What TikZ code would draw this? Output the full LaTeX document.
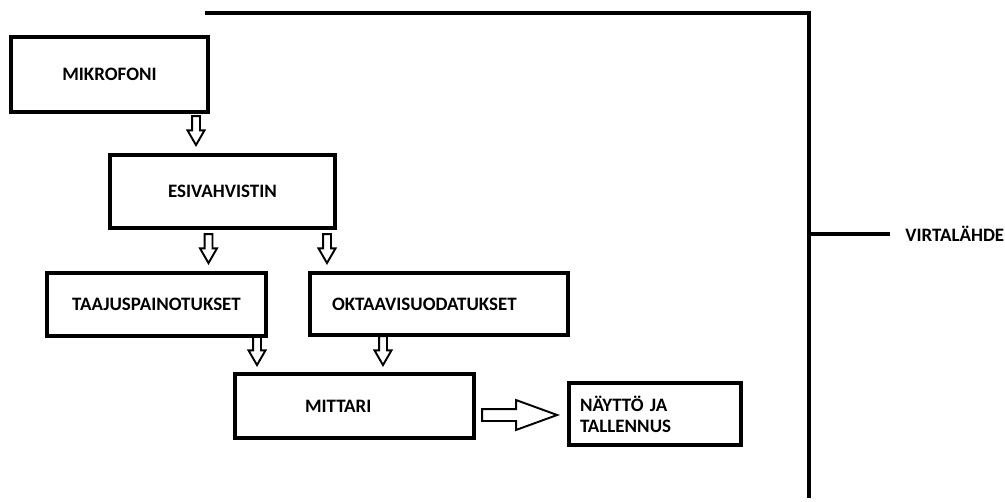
\documentclass[tikz,border=0pt]{standalone}
\usepackage{fontspec}
\setmainfont{Carlito}
\usetikzlibrary{shapes.arrows}

\begin{document}
\begin{tikzpicture}[
    x=0.02cm, y=-0.02cm,
    box/.style={rectangle, draw, line width=2.3pt, font=\bfseries\fontsize{10.8}{12}\selectfont},
    barrow/.style={single arrow, draw, line width=1.1pt, anchor=tip, inner xsep=0pt, single arrow head indent=0pt},
    darrow/.style={barrow, rotate=-90, inner ysep=0.06cm, single arrow head extend=0.09cm, single arrow tip angle=60, minimum height=0.58cm},
    rarrow/.style={barrow, inner ysep=0.1cm, single arrow head extend=0.18cm, single arrow tip angle=40, minimum height=1.5cm},
    wire/.style={line width=2.3pt}
]
\useasboundingbox (0,0) rectangle (1005,501);

\node[box, minimum width=3.94cm, minimum height=1.5cm] (mik) at (109.5,74.5) {MIKROFONI};
\node[box, minimum width=4.5cm, minimum height=1.46cm] (esi) at (222.5,191.5) {ESIVAHVISTIN};
\node[box, minimum width=4.38cm, minimum height=1.26cm] (taa) at (156.5,304.5) {TAAJUSPAINOTUKSET};
\node[box, minimum height=1.24cm, text width=4.28cm, inner xsep=0.44cm, align=left] (okt) at (439,304) {OKTAAVISUODATUKSET};
\node[box, minimum height=1.28cm, text width=1.98cm, inner xsep=1.4cm, align=left] (mit) at (354.5,406) {MITTARI};
\node[box, minimum height=1.24cm, text width=3cm, inner xsep=0.22cm, align=left] (nay) at (655,414) {NÄYTTÖ JA\\TALLENNUS};

% signal flow
\node[darrow] (a1) at (196,147) {};
\node[darrow] (a2) at (208.5,265) {};
\node[darrow] (a3) at (327,265) {};
\node[darrow] (a4) at (257,367) {};
\node[darrow] (a5) at (383,367) {};
\node[rarrow] (a6) at (560,415) {};

% power supply
\coordinate (wtl) at (205,13);
\coordinate (wtr) at (809,13);
\coordinate (wbot) at (809,498);
\node[font=\bfseries\fontsize{10.8}{12}\selectfont, anchor=west, inner xsep=0.3cm] (virta) at (890,234) {VIRTALÄHDE};
\draw[wire] (wtl) -- (wtr) -- (wbot);
\draw[wire] (virta.west) -- (virta.west -| wtr);
\end{tikzpicture}
\end{document}
